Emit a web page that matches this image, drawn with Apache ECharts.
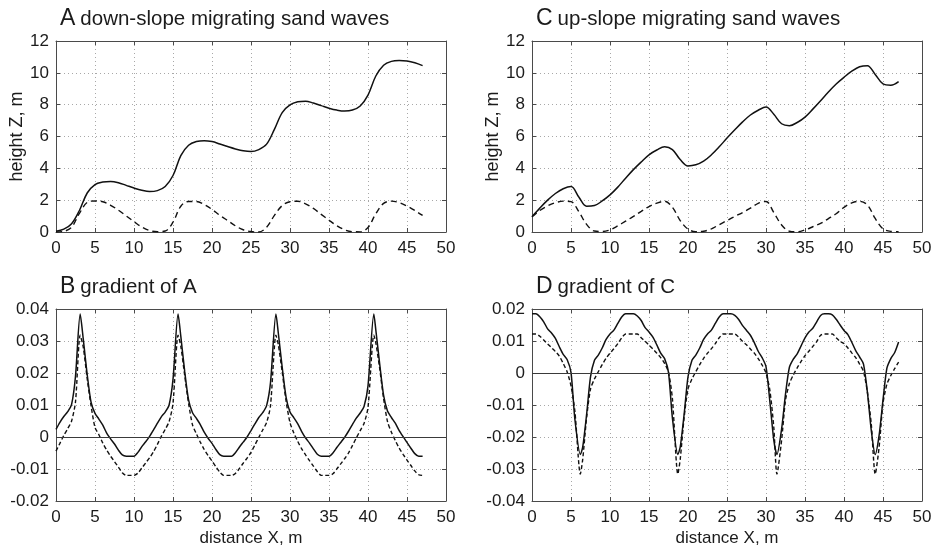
<!DOCTYPE html>
<html>
<head>
<meta charset="utf-8">
<script src="https://cdn.jsdelivr.net/npm/echarts@6/dist/echarts.min.js"></script>
<style>
  html, body { margin: 0; padding: 0; background: #fff; }
  #chart { width: 943px; height: 552px; }
</style>
</head>
<body>
<div id="chart"></div>
<script>
// Distance along the slope (m) for the height profiles, 1 m spacing
const xProfile = [0,1,2,3,4,5,6,7,8,9,10,11,12,13,14,15,16,17,18,19,20,21,22,23,24,25,26,27,28,29,30,31,32,33,34,35,36,37,38,39,40,41,42,43,44,45,46,47];

// A: down-slope migrating sand waves (total bed height and the waves alone), m
const aTotal = [0.05,0.18,0.52,1.35,2.45,2.98,3.14,3.18,3.10,2.93,2.76,2.62,2.54,2.60,2.86,3.55,4.80,5.45,5.68,5.74,5.68,5.53,5.37,5.22,5.10,5.05,5.18,5.52,6.45,7.50,7.98,8.18,8.22,8.10,7.94,7.78,7.66,7.60,7.66,7.92,8.60,9.80,10.48,10.72,10.77,10.74,10.63,10.45];
const aWaves = [0.00,0.04,0.30,1.17,1.86,1.95,1.90,1.68,1.37,1.01,0.65,0.31,0.09,0.02,0.06,0.62,1.62,1.92,1.92,1.73,1.42,1.05,0.72,0.39,0.14,0.03,0.00,0.30,1.04,1.66,1.90,1.93,1.77,1.48,1.11,0.74,0.40,0.14,0.02,0.01,0.28,1.15,1.80,1.94,1.85,1.63,1.35,1.04];

// C: up-slope migrating sand waves, m
const cTotal = [0.96,1.50,2.00,2.42,2.72,2.86,2.20,1.62,1.66,1.95,2.33,2.82,3.38,3.92,4.40,4.85,5.15,5.36,5.18,4.55,4.15,4.22,4.45,4.85,5.35,5.90,6.42,6.92,7.35,7.65,7.86,7.40,6.80,6.68,6.88,7.22,7.72,8.25,8.80,9.30,9.72,10.10,10.38,10.45,9.90,9.30,9.22,9.45];
const cWaves = [0.96,1.35,1.64,1.84,1.94,1.91,1.28,0.48,0.06,0.03,0.13,0.39,0.68,0.98,1.30,1.60,1.81,1.93,1.55,0.72,0.18,0.02,0.05,0.20,0.46,0.72,0.98,1.22,1.50,1.80,1.92,1.22,0.44,0.05,0.01,0.13,0.33,0.54,0.84,1.15,1.55,1.83,1.93,1.70,0.85,0.20,0.04,0.02];

// B: gradient of A, sampled every 0.5 m with the crest samples on the peaks
const xGradB = [0,0.5,1,1.5,2,2.5,3.1,3.5,4,4.5,5,5.5,6,6.5,7,7.5,8,8.5,9,9.5,10,10.5,11,11.5,12,12.5,13,13.5,14,14.5,15,15.65,16,16.5,17,17.5,18,18.5,19,19.5,20,20.5,21,21.5,22,22.5,23,23.5,24,24.5,25,25.5,26,26.5,27,27.5,28.2,28.5,29,29.5,30,30.5,31,31.5,32,32.5,33,33.5,34,34.5,35,35.5,36,36.5,37,37.5,38,38.5,39,39.5,40,40.75,41,41.5,42,42.5,43,43.5,44,44.5,45,45.5,46,46.5,47];
const bTotal = [0.0024,0.0046,0.0064,0.0079,0.0102,0.0190,0.0384,0.0305,0.0195,0.0108,0.0074,0.0056,0.0037,0.0012,-0.0006,-0.0022,-0.0041,-0.0056,-0.0060,-0.0060,-0.0060,-0.0048,-0.0030,-0.0015,0.0002,0.0022,0.0043,0.0063,0.0078,0.0100,0.0180,0.0384,0.0315,0.0205,0.0115,0.0076,0.0058,0.0039,0.0015,-0.0004,-0.0020,-0.0039,-0.0055,-0.0060,-0.0060,-0.0060,-0.0049,-0.0032,-0.0016,0.0000,0.0020,0.0041,0.0061,0.0076,0.0098,0.0170,0.0384,0.0325,0.0218,0.0124,0.0078,0.0060,0.0041,0.0017,-0.0003,-0.0019,-0.0037,-0.0054,-0.0060,-0.0060,-0.0060,-0.0050,-0.0033,-0.0017,-0.0001,0.0018,0.0039,0.0059,0.0075,0.0096,0.0160,0.0384,0.0335,0.0228,0.0130,0.0081,0.0061,0.0043,0.0020,0.0001,-0.0017,-0.0035,-0.0052,-0.0060,-0.0060];
const bWaves = [-0.0044,-0.0020,0.0005,0.0026,0.0050,0.0110,0.0318,0.0280,0.0182,0.0097,0.0030,0.0007,-0.0019,-0.0041,-0.0060,-0.0077,-0.0094,-0.0112,-0.0120,-0.0120,-0.0120,-0.0113,-0.0097,-0.0081,-0.0065,-0.0046,-0.0023,0.0002,0.0024,0.0048,0.0105,0.0318,0.0284,0.0192,0.0105,0.0038,0.0010,-0.0016,-0.0039,-0.0058,-0.0075,-0.0093,-0.0110,-0.0120,-0.0120,-0.0120,-0.0114,-0.0099,-0.0082,-0.0066,-0.0048,-0.0025,-0.0001,0.0022,0.0045,0.0098,0.0318,0.0289,0.0203,0.0112,0.0045,0.0012,-0.0014,-0.0037,-0.0056,-0.0074,-0.0091,-0.0108,-0.0120,-0.0120,-0.0120,-0.0115,-0.0100,-0.0084,-0.0068,-0.0050,-0.0027,-0.0003,0.0020,0.0043,0.0092,0.0318,0.0295,0.0214,0.0120,0.0048,0.0015,-0.0011,-0.0035,-0.0054,-0.0072,-0.0089,-0.0106,-0.0118,-0.0120];

// D: gradient of C, sampled every 0.5 m with the trough samples on the dips
const xGradD = [0,0.5,1,1.5,2,2.5,3,3.5,4,4.5,5,5.5,6.2,6.5,7,7.5,8,8.5,9,9.5,10,10.5,11,11.5,12,12.5,13,13.5,14,14.5,15,15.5,16,16.5,17,17.5,18,18.7,19,19.5,20,20.5,21,21.5,22,22.5,23,23.5,24,24.5,25,25.5,26,26.5,27,27.5,28,28.5,29,29.5,30,30.5,31,31.4,32,32.5,33,33.5,34,34.5,35,35.5,36,36.5,37,37.5,38,38.5,39,39.5,40,40.5,41,41.5,42,42.5,43,43.5,44,44.5,45,45.5,46,46.5,47];
const dTotal = [0.0185,0.0185,0.0176,0.0160,0.0138,0.0125,0.0108,0.0082,0.0058,0.0042,0.0002,-0.0145,-0.0255,-0.0232,-0.0130,-0.0012,0.0039,0.0056,0.0078,0.0105,0.0122,0.0134,0.0155,0.0175,0.0185,0.0185,0.0185,0.0178,0.0164,0.0142,0.0128,0.0112,0.0088,0.0062,0.0045,0.0002,-0.0140,-0.0255,-0.0232,-0.0130,-0.0012,0.0039,0.0056,0.0078,0.0105,0.0122,0.0134,0.0155,0.0175,0.0185,0.0185,0.0185,0.0180,0.0167,0.0148,0.0133,0.0118,0.0095,0.0068,0.0048,0.0020,-0.0090,-0.0210,-0.0255,-0.0175,-0.0066,0.0018,0.0043,0.0060,0.0085,0.0110,0.0128,0.0140,0.0160,0.0180,0.0185,0.0185,0.0182,0.0168,0.0150,0.0133,0.0120,0.0096,0.0070,0.0050,0.0028,-0.0060,-0.0180,-0.0255,-0.0195,-0.0084,0.0015,0.0045,0.0064,0.0097];
const dWaves = [0.0122,0.0122,0.0115,0.0103,0.0091,0.0079,0.0067,0.0053,0.0030,0.0004,-0.0040,-0.0120,-0.0316,-0.0270,-0.0140,-0.0050,-0.0019,0.0004,0.0026,0.0046,0.0062,0.0076,0.0092,0.0110,0.0122,0.0122,0.0122,0.0122,0.0110,0.0099,0.0087,0.0075,0.0062,0.0048,0.0030,0.0003,-0.0080,-0.0316,-0.0270,-0.0140,-0.0050,-0.0019,0.0004,0.0026,0.0046,0.0062,0.0076,0.0092,0.0110,0.0122,0.0122,0.0122,0.0122,0.0112,0.0099,0.0088,0.0075,0.0062,0.0045,0.0025,0.0000,-0.0055,-0.0170,-0.0316,-0.0210,-0.0085,-0.0033,-0.0006,0.0016,0.0036,0.0054,0.0068,0.0083,0.0098,0.0118,0.0122,0.0122,0.0122,0.0110,0.0099,0.0092,0.0078,0.0063,0.0048,0.0028,0.0005,-0.0060,-0.0160,-0.0316,-0.0232,-0.0095,-0.0035,-0.0008,0.0014,0.0034];

// Axis ranges: [min, max, step]
const xRange = [0, 50, 5];
const heightRange = [0, 12, 2];
const gradARange = [-0.02, 0.04, 0.01];
const gradCRange = [-0.04, 0.02, 0.01];

const FONT = '"Liberation Sans", Arial, Helvetica, sans-serif';
const INK = '#1b1b1b';
const FRAME = '#4a4a4a';

const panels = [
  { key: 'A', title: 'down-slope migrating sand waves', left: 56, top: 41, height: 191,
    x: xProfile, solid: aTotal, dashed: aWaves, y: heightRange, yName: 'height Z, m', xName: '',
    zero: false, dash: [6, 4], digits: 0 },
  { key: 'C', title: 'up-slope migrating sand waves', left: 532, top: 41, height: 191,
    x: xProfile, solid: cTotal, dashed: cWaves, y: heightRange, yName: 'height Z, m', xName: '',
    zero: false, dash: [6, 4], digits: 0 },
  { key: 'B', title: 'gradient of A', left: 56, top: 309, height: 192,
    x: xGradB, solid: bTotal, dashed: bWaves, y: gradARange, yName: '', xName: 'distance X, m',
    zero: true, dash: [4, 2.5], digits: 2 },
  { key: 'D', title: 'gradient of C', left: 532, top: 309, height: 192,
    x: xGradD, solid: dTotal, dashed: dWaves, y: gradCRange, yName: '', xName: 'distance X, m',
    zero: true, dash: [4, 2.5], digits: 2 }
];

const grids = [], xAxes = [], yAxes = [], series = [], titles = [];
const gridLine = { show: true, lineStyle: { color: '#a8a8a8', width: 1, type: [1, 3] } };
const frameLine = { show: true, onZero: false, lineStyle: { color: FRAME, width: 1 } };
const tick = { show: true, inside: true, length: 4, lineStyle: { color: FRAME, width: 1 } };
const labelText = { fontFamily: FONT, fontSize: 17, color: INK };

panels.forEach((p, i) => {
  grids.push({ left: p.left, top: p.top, width: 390, height: p.height,
               containLabel: false, outerBoundsMode: 'none', show: false });
  const fmt = v => (Math.abs(v) < 1e-9 ? '0' : v.toFixed(p.digits));

  // bottom and top x axes (ticks on both edges of the frame)
  xAxes.push({ gridIndex: i, type: 'value', position: 'bottom', min: xRange[0], max: xRange[1], interval: xRange[2],
    axisLine: frameLine, axisTick: tick, splitLine: gridLine,
    axisLabel: Object.assign({ margin: 8 }, labelText),
    name: p.xName, nameLocation: 'middle', nameGap: 29,
    nameTextStyle: { fontFamily: FONT, fontSize: 17, color: INK } });
  xAxes.push({ gridIndex: i, type: 'value', position: 'top', min: xRange[0], max: xRange[1], interval: xRange[2],
    axisLine: frameLine, axisTick: tick, splitLine: { show: false }, axisLabel: { show: false } });

  // left and right y axes
  yAxes.push({ gridIndex: i, type: 'value', position: 'left', min: p.y[0], max: p.y[1], interval: p.y[2],
    axisLine: frameLine, axisTick: tick, splitLine: gridLine,
    axisLabel: Object.assign({ margin: 7, formatter: fmt }, labelText),
    name: p.yName, nameLocation: 'middle', nameGap: 29, nameRotate: 90,
    nameTextStyle: { fontFamily: FONT, fontSize: 18, color: INK } });
  yAxes.push({ gridIndex: i, type: 'value', position: 'right', min: p.y[0], max: p.y[1], interval: p.y[2],
    axisLine: frameLine, axisTick: tick, splitLine: { show: false }, axisLabel: { show: false } });

  const smooth = p.digits === 0 ? 0.35 : 0.25;
  const solid = {
    type: 'line', xAxisIndex: 2 * i, yAxisIndex: 2 * i, showSymbol: false, symbol: 'none',
    smooth: smooth, data: p.x.map((x, k) => [x, p.solid[k]]),
    lineStyle: { color: '#111', width: 1.5, type: 'solid' }, z: 3
  };
  if (p.zero) {
    solid.markLine = { silent: true, symbol: 'none', label: { show: false }, animation: false,
      lineStyle: { color: '#3a3a3a', width: 1, type: 'solid' }, data: [{ yAxis: 0 }] };
  }
  series.push(solid);
  series.push({
    type: 'line', xAxisIndex: 2 * i, yAxisIndex: 2 * i, showSymbol: false, symbol: 'none',
    smooth: smooth, data: p.x.map((x, k) => [x, p.dashed[k]]),
    lineStyle: { color: '#111', width: 1.4, type: p.dash }, z: 3
  });

  titles.push({ left: p.left - 1, top: p.top - 39,
    text: '{k|' + p.key + '} {t|' + p.title + '}',
    textStyle: { fontWeight: 'normal', rich: {
      k: { fontFamily: FONT, fontSize: 23, fontWeight: 'normal', color: INK, verticalAlign: 'bottom' },
      t: { fontFamily: FONT, fontSize: 20.5, fontWeight: 'normal', color: INK, verticalAlign: 'bottom' } } } });
});

const chart = echarts.init(document.getElementById('chart'), null, { renderer: 'canvas' });
chart.setOption({
  animation: false,
  backgroundColor: '#ffffff',
  textStyle: { fontFamily: FONT },
  title: titles,
  grid: grids,
  xAxis: xAxes,
  yAxis: yAxes,
  series: series
});
</script>
</body>
</html>
